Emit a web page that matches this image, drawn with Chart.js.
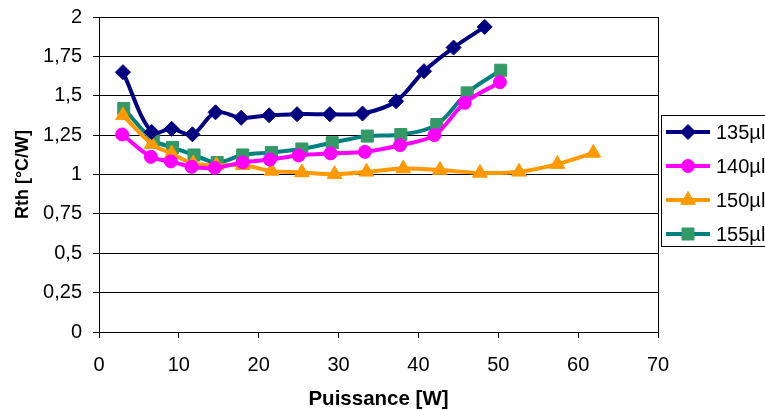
<!DOCTYPE html>
<html>
<head>
<meta charset="utf-8">
<script src="https://cdn.jsdelivr.net/npm/chart.js@4/dist/chart.umd.min.js"></script>
<style>
  html, body { margin: 0; padding: 0; background: #fff; }
  #c { display: block; }
</style>
</head>
<body>
<canvas id="c" width="765" height="410"></canvas>
<script>
// series data (Puissance [W] vs Rth [°C/W])
const labels = ['135µl', '140µl', '150µl', '155µl'];

const p135 = [3.0, 6.6, 9.1, 11.7, 14.6, 17.8, 21.3, 24.8, 28.9, 33.0, 37.2, 40.7, 44.4, 48.3];
const r135 = [1.65, 1.27, 1.29, 1.255, 1.395, 1.36, 1.376, 1.383, 1.383, 1.387, 1.465, 1.656, 1.806, 1.937];

const p140 = [2.9, 6.5, 9.0, 11.6, 14.5, 18.0, 21.4, 25.0, 29.0, 33.3, 37.7, 42.0, 45.8, 50.2];
const r140 = [1.254, 1.112, 1.083, 1.049, 1.042, 1.077, 1.095, 1.121, 1.134, 1.144, 1.186, 1.25, 1.455, 1.586];

const p150 = [3.0, 6.6, 9.1, 11.8, 14.7, 18.0, 21.6, 25.4, 29.5, 33.5, 38.1, 42.7, 47.7, 52.6, 57.4, 61.9];
const r150 = [1.376, 1.193, 1.133, 1.07, 1.059, 1.059, 1.023, 1.013, 1.002, 1.017, 1.038, 1.028, 1.01, 1.017, 1.066, 1.137];

const p155 = [3.1, 6.8, 9.2, 11.9, 14.8, 18.0, 21.6, 25.4, 29.2, 33.6, 37.8, 42.3, 46.1, 50.3];
const r155 = [1.419, 1.218, 1.172, 1.124, 1.076, 1.124, 1.14, 1.162, 1.202, 1.244, 1.254, 1.317, 1.518, 1.662];

const yTickLabels = ['0', '0,25', '0,5', '0,75', '1', '1,25', '1,5', '1,75', '2'];

function pts(xs, ys) {
    return xs.map((x, i) => ({ x: x, y: ys[i] }));
}

const FONT = 'Arial, "Liberation Sans", sans-serif';

// custom legend: line segment + marker, boxed, on the right
const boxLegend = {
    id: 'boxLegend',
    afterDraw(chart) {
        const ctx = chart.ctx;
        ctx.save();
        ctx.strokeStyle = '#000';
        ctx.lineWidth = 1;
        ctx.strokeRect(661.5, 115.5, 110, 131);
        ctx.font = '20px ' + FONT;
        ctx.textBaseline = 'middle';
        chart.data.datasets.forEach((ds, i) => {
            const y = 132 + i * 34;
            ctx.strokeStyle = ds.borderColor;
            ctx.lineWidth = 4;
            ctx.beginPath();
            ctx.moveTo(666, y);
            ctx.lineTo(710, y);
            ctx.stroke();
            ctx.fillStyle = ds.pointBackgroundColor;
            ctx.strokeStyle = ds.pointBorderColor;
            ctx.lineWidth = 1;
            Chart.helpers.drawPoint(ctx, { pointStyle: ds.pointStyle, radius: ds.pointRadius, borderWidth: 1 }, 688, y);
            ctx.fillStyle = '#000';
            ctx.fillText(ds.label, 716, y + 1);
        });
        // right frame of the plot
        const a = chart.chartArea;
        ctx.strokeStyle = '#000';
        ctx.lineWidth = 1;
        ctx.beginPath();
        ctx.moveTo(Math.round(a.right) + 0.5, a.top);
        ctx.lineTo(Math.round(a.right) + 0.5, a.bottom);
        ctx.stroke();
        ctx.restore();
    }
};

new Chart(document.getElementById('c').getContext('2d'), {
    type: 'line',
    data: {
        datasets: [
            {
                label: labels[0], data: pts(p135, r135),
                borderColor: '#000080', pointBackgroundColor: '#000080', pointBorderColor: '#000080',
                pointStyle: 'rectRot', pointRadius: 7.5
            },
            {
                label: labels[1], data: pts(p140, r140),
                borderColor: '#FF00FF', pointBackgroundColor: '#FF00FF', pointBorderColor: '#FF00FF',
                pointStyle: 'circle', pointRadius: 6.5
            },
            {
                label: labels[2], data: pts(p150, r150),
                borderColor: '#FF9900', pointBackgroundColor: '#FF9900', pointBorderColor: '#FF9900',
                pointStyle: 'triangle', pointRadius: 8.5
            },
            {
                label: labels[3], data: pts(p155, r155),
                borderColor: '#008080', pointBackgroundColor: '#339966', pointBorderColor: '#339966',
                pointStyle: 'rect', pointRadius: 8.5
            }
        ]
    },
    options: {
        responsive: false,
        animation: false,
        layout: { padding: { top: 17, right: 107, bottom: 0, left: 0 } },
        datasets: {
            line: { borderWidth: 4, tension: 0.35, fill: false, pointBorderWidth: 1 }
        },
        plugins: {
            legend: { display: false },
            tooltip: { enabled: false }
        },
        scales: {
            x: {
                type: 'linear',
                min: 0, max: 70,
                afterFit: s => { s.height = 78; s.paddingLeft = 0; s.paddingRight = 0; },
                ticks: { stepSize: 10, color: '#000', padding: 15, font: { family: FONT, size: 20 } },
                grid: { drawOnChartArea: false, color: '#000', tickLength: 6 },
                border: { color: '#000' },
                title: {
                    display: true, text: 'Puissance [W]', color: '#000',
                    font: { family: FONT, size: 20.5, weight: 'bold' },
                    padding: { top: 0, bottom: -2 }
                }
            },
            y: {
                min: 0, max: 2,
                afterFit: s => { s.width = 99; s.paddingTop = 0; s.paddingBottom = 0; },
                ticks: {
                    stepSize: 0.25, color: '#000', padding: 11,
                    font: { family: FONT, size: 20 },
                    callback: (v, i) => yTickLabels[i]
                },
                grid: { color: '#000', tickLength: 6 },
                border: { color: '#000' },
                title: {
                    display: true, text: 'Rth [°C/W]', color: '#000',
                    font: { family: FONT, size: 18, weight: 'bold' },
                    padding: { top: 12, bottom: 0 }
                }
            }
        }
    },
    plugins: [boxLegend]
});
</script>
</body>
</html>
